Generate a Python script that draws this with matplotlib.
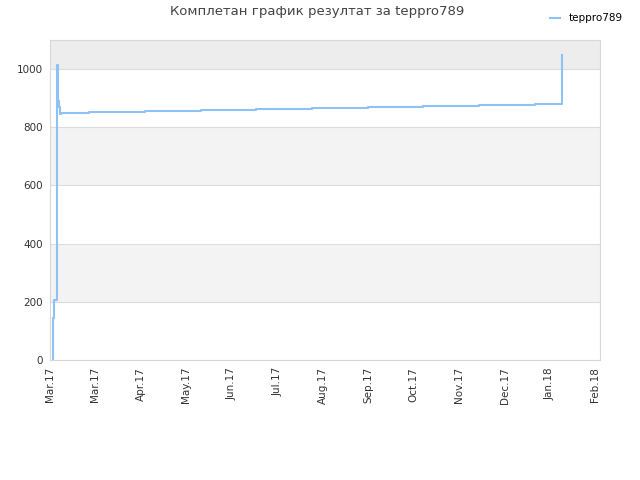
import datetime as dt

import matplotlib
matplotlib.use('Agg')
import matplotlib.pyplot as plt
import matplotlib.dates as mdates

# score history, days counted from 1 March 2017
days = [2.0, 2.0, 2.7, 2.7, 4.4, 5.0, 5.0, 5.6, 6.0, 6.9, 7.0,
        25.8, 62.7, 99.7, 136.0, 173.0, 210.0, 246.0, 283.0, 320.0, 338.0, 338.0]
scores = [0, 145, 145, 207, 1015, 940, 880, 890, 870, 845, 848,
          852, 855, 859, 862, 866, 869, 872, 876, 879, 879, 1050]
series_name = 'teppro789'
title = 'Комплетан график резултат за teppro789'

start = dt.datetime(2017, 3, 1)
dates = [start + dt.timedelta(days=d) for d in days]

fig = plt.figure(figsize=(6.4, 4.8), dpi=100)
ax = fig.add_axes([50 / 640, 120 / 480, 550 / 640, 320 / 480])

# alternating background bands
bands = [(0, 200, '#ffffff'), (200, 400, '#f3f3f3'), (400, 600, '#ffffff'),
         (600, 800, '#f3f3f3'), (800, 1000, '#ffffff'), (1000, 1100, '#ededed')]
for lo, hi, c in bands:
    ax.axhspan(lo, hi, color=c, zorder=0, lw=0)
for yv in range(200, 1100, 200):
    ax.axhline(yv, color='#dddddd', lw=0.8, zorder=1)
ax.axhline(1000, color='#dddddd', lw=0.8, zorder=1)

ax.plot(dates, scores, drawstyle='steps-post', color='#8ec2f4', lw=1.5,
        label=series_name, zorder=3)

ax.set_ylim(0, 1100)
ax.set_yticks([0, 200, 400, 600, 800, 1000])
ax.set_xlim(start, start + dt.timedelta(days=363))
ticks = [start + dt.timedelta(days=30 * i) for i in range(13)]
ax.set_xticks(ticks)
ax.xaxis.set_major_formatter(mdates.DateFormatter('%b.%y'))
plt.setp(ax.get_xticklabels(), rotation=90)

ax.tick_params(length=0, labelsize=7.5, colors='#333333', pad=5)
for s in ax.spines.values():
    s.set_color('#d8d8d8')

fig.text(317 / 640, 1 - 12 / 480, title, ha='center', va='center',
         fontsize=9.5, color='#444444')
fig.legend(loc='upper right', bbox_to_anchor=(632 / 640, 1 - 4 / 480),
           frameon=False, fontsize=7.5, handlelength=1.0)

fig.savefig('out.png', dpi=100)
